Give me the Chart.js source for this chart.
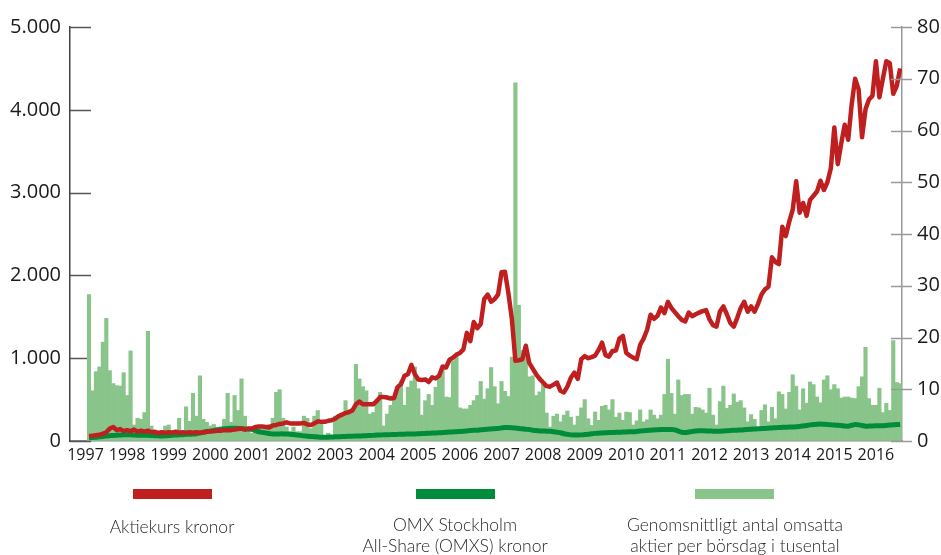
<!DOCTYPE html>
<html>
<head>
<meta charset="utf-8">
<script src="https://cdn.jsdelivr.net/npm/chart.js@4.4.1/dist/chart.umd.min.js"></script>
<style>
  body { margin: 0; background: #fff; }
  #wrap { position: relative; width: 941px; height: 555px; }
  .key { position: absolute; top: 489px; width: 79px; height: 10px; }
  .txt { position: absolute; width: 300px; text-align: center; font: 300 17.5px/21px Lato, sans-serif; color: #2a2a2a; }
</style>
</head>
<body>
<div id="wrap">
  <canvas id="chart" width="941" height="555"></canvas>
  <div class="key" style="left:133px;background:#c01f1f"></div>
  <div class="key" style="left:416px;background:#008c3a"></div>
  <div class="key" style="left:695px;background:#89c58a"></div>
  <div class="txt" style="left:22px;top:516px">Aktiekurs kronor</div>
  <div class="txt" style="left:305px;top:514px">OMX Stockholm<br>All-Share (OMXS) kronor</div>
  <div class="txt" style="left:585px;top:514px">Genomsnittligt antal omsatta<br>aktier per börsdag i tusental</div>
</div>
<script>
// monthly data, Jan 1997 - Jul 2016
var startYear = 1997;
var yearLabels = [1997, 1998, 1999, 2000, 2001, 2002, 2003, 2004, 2005, 2006,
                  2007, 2008, 2009, 2010, 2011, 2012, 2013, 2014, 2015, 2016];

// average traded shares per day, thousands (right axis)
var volumeValues = [
  28.3, 9.7, 13.4, 14.3, 19.1, 23.7, 13.6, 11.1, 10.7, 10.6, 13.2, 8.8,
  17.4, 3.1, 4.4, 4.2, 5.5, 21.2, 2.9, 2.0, 2.0, 2.0, 2.9, 3.1,
  2.0, 2.0, 4.4, 1.8, 6.6, 3.8, 9.2, 4.8, 12.6, 4.2, 3.6, 2.9,
  3.2, 2.3, 1.8, 4.2, 9.2, 3.6, 8.8, 5.9, 12.0, 4.8, 1.8, 1.5,
  2.9, 2.9, 2.3, 2.5, 3.2, 4.4, 9.4, 9.9, 4.4, 2.7, 1.8, 2.7,
  1.8, 1.8, 4.8, 4.4, 2.4, 4.8, 5.9, 3.4, 1.1, 1.5, 1.1, 4.8,
  4.8, 5.2, 7.8, 6.0, 6.2, 14.8, 12.0, 10.5, 9.7, 5.2, 5.5, 8.1,
  9.4, 2.9, 5.2, 6.9, 8.5, 10.4, 11.6, 6.9, 10.4, 11.6, 14.3, 10.1,
  5.0, 7.8, 9.0, 6.9, 10.4, 12.3, 14.5, 8.5, 8.4, 15.5, 16.7, 6.4,
  6.2, 6.2, 6.9, 7.8, 8.8, 11.5, 8.1, 10.1, 14.2, 10.5, 7.2, 11.5,
  9.6, 8.6, 16.2, 69.2, 26.2, 17.5, 17.0, 12.4, 12.6, 8.8, 9.5, 11.0,
  5.4, 2.7, 4.8, 5.2, 3.7, 5.0, 5.8, 4.6, 3.1, 4.8, 6.4, 8.0,
  4.3, 3.0, 5.6, 4.0, 6.7, 6.9, 6.0, 8.0, 4.6, 5.4, 4.0, 5.6,
  5.5, 3.1, 3.9, 6.0, 3.7, 4.1, 6.0, 5.0, 4.3, 5.0, 9.0, 15.8,
  9.2, 5.2, 11.8, 8.8, 9.0, 9.0, 5.2, 6.5, 6.4, 6.0, 5.4, 10.2,
  5.0, 3.1, 7.6, 10.6, 6.3, 6.9, 9.1, 7.5, 7.8, 6.4, 3.7, 5.1,
  4.2, 2.6, 5.9, 7.0, 3.7, 6.5, 4.3, 9.5, 9.0, 6.2, 9.4, 12.8,
  10.6, 6.0, 10.1, 7.3, 11.4, 10.9, 8.5, 7.4, 11.8, 12.6, 9.9, 10.9,
  10.1, 8.3, 8.5, 8.5, 8.3, 8.2, 10.5, 12.4, 18.1, 8.2, 6.9, 6.9,
  10.2, 5.5, 7.3, 5.9, 19.4, 11.3, 11.1
];

// share price, kronor (right axis)
var priceValues = [
  0.95, 1.0, 1.1, 1.2, 1.4, 1.7, 2.4, 2.7, 2.1, 2.3, 1.9, 2.1,
  1.9, 2.2, 1.8, 2.0, 1.8, 2.0, 1.7, 1.8, 1.5, 1.7, 1.6, 1.7,
  1.6, 1.8, 1.6, 1.7, 1.6, 1.7, 1.6, 1.7, 1.6, 1.7, 1.8, 1.9,
  1.9, 2.0, 2.0, 2.1, 2.1, 2.1, 2.2, 2.3, 2.4, 2.2, 2.4, 2.4,
  2.7, 2.8, 2.8, 2.7, 2.6, 3.0, 3.1, 3.3, 3.4, 3.6, 3.4, 3.4,
  3.4, 3.4, 3.5, 3.2, 3.1, 3.4, 3.8, 3.7, 3.7, 3.9, 4.0, 4.3,
  4.8, 5.1, 5.4, 5.6, 5.9, 7.1, 7.6, 7.1, 7.1, 7.1, 7.1, 7.7,
  8.5, 8.5, 8.4, 8.2, 8.3, 10.4, 11.0, 12.6, 12.9, 14.7, 12.9, 11.9,
  11.8, 11.9, 11.4, 12.3, 12.1, 12.6, 14.4, 14.2, 15.7, 16.1, 16.7, 17.0,
  17.7, 20.9, 19.3, 23.0, 21.8, 22.6, 27.4, 28.3, 26.9, 27.4, 28.3, 32.6,
  32.7, 28.5, 23.5, 15.5, 15.6, 15.8, 18.4, 15.1, 14.0, 12.9, 12.0, 11.3,
  10.6, 10.5, 10.9, 11.3, 9.7, 9.4, 10.5, 12.2, 13.2, 12.0, 15.8, 16.4,
  16.0, 16.2, 16.5, 17.6, 19.0, 16.6, 16.3, 17.4, 17.5, 19.8, 20.3, 17.0,
  16.5, 16.1, 15.8, 18.6, 19.8, 21.5, 24.4, 23.6, 24.2, 25.8, 24.7, 26.9,
  25.7, 24.9, 24.1, 23.4, 23.1, 24.8, 24.1, 24.5, 24.8, 25.1, 25.3, 23.5,
  22.4, 22.1, 25.0, 26.0, 24.5, 22.8, 22.1, 23.8, 25.7, 26.9, 25.0, 26.0,
  25.0, 26.5, 28.3, 29.3, 29.8, 35.5, 34.6, 34.2, 41.4, 39.6, 42.4, 44.7,
  50.2, 44.1, 46.0, 43.5, 46.6, 47.4, 48.2, 50.3, 48.5, 50.0, 52.7, 60.6,
  53.5, 57.5, 61.1, 58.2, 65.0, 70.0, 68.0, 58.7, 64.1, 66.0, 66.7, 73.4,
  66.4, 70.0, 73.4, 73.0, 67.1, 68.6, 72.0
];

// OMX Stockholm All-Share (left axis)
var omxValues = [
  40, 42, 45, 50, 55, 60, 64, 66, 70, 72, 74, 75,
  74, 72, 70, 69, 68, 68, 66, 64, 62, 60, 62, 66,
  70, 72, 74, 76, 80, 82, 84, 88, 95, 105, 115, 119,
  128, 137, 143, 148, 152, 155, 155, 152, 150, 146, 143, 140,
  125, 112, 104, 98, 90, 84, 84, 86, 86, 84, 82, 78,
  72, 68, 62, 58, 54, 52, 48, 46, 44, 46, 48, 50,
  52, 54, 55, 57, 58, 60, 60, 62, 64, 66, 68, 72,
  73, 75, 76, 77, 78, 80, 82, 83, 84, 85, 86, 88,
  90, 92, 94, 96, 97, 99, 102, 105, 108, 110, 112, 115,
  118, 122, 126, 129, 131, 136, 140, 143, 146, 149, 152, 158,
  163, 162, 160, 156, 151, 147, 142, 138, 131, 126, 122, 120,
  119, 118, 112, 106, 100, 88, 80, 74, 72, 72, 74, 78,
  82, 88, 92, 95, 98, 100, 102, 103, 105, 106, 108, 109,
  111, 113, 116, 120, 125, 128, 131, 133, 136, 138, 139, 139,
  139, 135, 120, 105, 102, 108, 115, 120, 123, 124, 122, 120,
  119, 118, 119, 121, 124, 127, 129, 131, 133, 136, 140, 142,
  145, 148, 150, 152, 155, 158, 160, 163, 165, 167, 168, 170,
  171, 176, 182, 188, 195, 200, 203, 205, 203, 200, 196, 192,
  191, 186, 180, 179, 190, 199, 195, 188, 179, 180, 182, 183,
  183, 184, 188, 192, 195, 198, 200
];

// month i is plotted at the end of that month
function toPoints(arr) {
  return arr.map(function (v, i) { return { x: startYear + (i + 1) / 12, y: v }; });
}

function thousands(v) {
  return String(v).replace(/\B(?=(\d{3})+(?!\d))/g, '.');
}

// tick marks: left ones point into the plot, right ones cross the axis
var tickMarks = {
  id: 'tickMarks',
  beforeDatasetsDraw: function (chart) {
    var ctx = chart.ctx, s = chart.scales.y;
    ctx.save();
    ctx.lineWidth = 1.5;
    ctx.strokeStyle = '#555';
    s.ticks.forEach(function (t) {
      var py = Math.round(s.getPixelForValue(t.value)) + 0.5;
      ctx.beginPath(); ctx.moveTo(s.right, py); ctx.lineTo(s.right + 21, py); ctx.stroke();
    });
    ctx.restore();
  },
  afterDatasetsDraw: function (chart) {
    var ctx = chart.ctx, s = chart.scales.y1;
    ctx.save();
    ctx.lineWidth = 1.5;
    ctx.strokeStyle = '#999';
    s.ticks.forEach(function (t) {
      var py = Math.round(s.getPixelForValue(t.value)) + 0.5;
      ctx.beginPath(); ctx.moveTo(s.left - 11, py); ctx.lineTo(s.left + 10, py); ctx.stroke();
    });
    ctx.restore();
  }
};

var tickFont = { family: 'Open Sans', size: 20 };

var myChart = new Chart(document.getElementById('chart').getContext('2d'), {
  type: 'bar',
  data: {
    datasets: [
      {
        type: 'line',
        label: 'Aktiekurs kronor',
        data: toPoints(priceValues),
        yAxisID: 'y1',
        borderColor: '#c01f1f',
        borderWidth: 4.5,
        pointRadius: 0,
        tension: 0,
        borderJoinStyle: 'round',
        order: 0
      },
      {
        type: 'line',
        label: 'OMX Stockholm All-Share (OMXS) kronor',
        data: toPoints(omxValues),
        yAxisID: 'y',
        borderColor: '#008c3a',
        borderWidth: 5,
        pointRadius: 0,
        tension: 0.3,
        order: 1
      },
      {
        label: 'Genomsnittligt antal omsatta aktier per börsdag i tusental',
        data: toPoints(volumeValues),
        yAxisID: 'y1',
        backgroundColor: '#89c58a',
        borderWidth: 0,
        barPercentage: 1,
        categoryPercentage: 1,
        order: 2
      }
    ]
  },
  options: {
    responsive: false,
    animation: false,
    events: [],
    layout: { padding: { top: 22, bottom: 85, left: 0, right: 0 } },
    plugins: { legend: { display: false }, tooltip: { enabled: false } },
    scales: {
      x: {
        type: 'linear',
        offset: false,
        min: 1996.627,
        max: 2016.627,
        grid: { drawOnChartArea: false, drawTicks: false },
        border: { color: '#888', width: 1.5 },
        afterBuildTicks: function (s) { s.ticks = yearLabels.map(function (y) { return { value: y }; }); },
        afterFit: function (s) { s.height = 29; },
        ticks: {
          autoSkip: false,
          maxRotation: 0,
          padding: 5,
          color: '#1a1a1a',
          font: { family: 'Open Sans', size: 16 },
          callback: function (v) { return String(v); }
        }
      },
      y: {
        position: 'left',
        min: 0,
        max: 5000,
        grid: { drawOnChartArea: false, drawTicks: false },
        border: { color: '#444', width: 1.5 },
        afterFit: function (s) { s.width = 70; },
        ticks: { stepSize: 1000, padding: 9, color: '#1a1a1a', font: tickFont, callback: thousands }
      },
      y1: {
        position: 'right',
        min: 0,
        max: 80,
        grid: { drawOnChartArea: false, drawTicks: false },
        border: { color: '#999', width: 1.5 },
        afterFit: function (s) { s.width = 39; },
        ticks: { stepSize: 10, padding: 15, color: '#1a1a1a', font: tickFont }
      }
    }
  },
  plugins: [tickMarks]
});
</script>
</body>
</html>
